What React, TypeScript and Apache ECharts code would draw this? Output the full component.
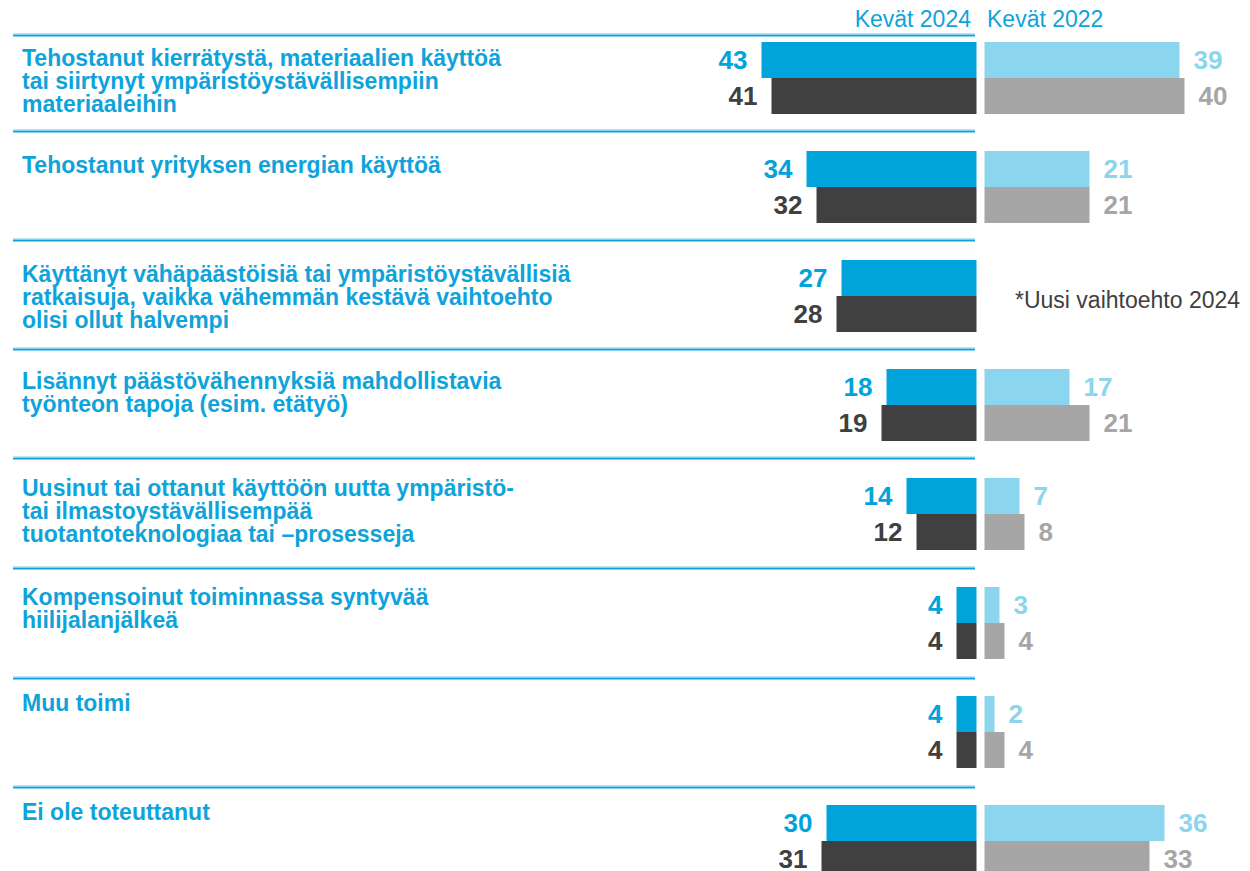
import React, { useEffect, useRef } from 'react';
import * as echarts from 'echarts';

const categories = [
  'Tehostanut kierrätystä, materiaalien käyttöä\ntai siirtynyt ympäristöystävällisempiin\nmateriaaleihin',
  'Tehostanut yrityksen energian käyttöä',
  'Käyttänyt vähäpäästöisiä tai ympäristöystävällisiä\nratkaisuja, vaikka vähemmän kestävä vaihtoehto\nolisi ollut halvempi',
  'Lisännyt päästövähennyksiä mahdollistavia\ntyönteon tapoja (esim. etätyö)',
  'Uusinut tai ottanut käyttöön uutta ympäristö-\ntai ilmastoystävällisempää\ntuotantoteknologiaa tai –prosesseja',
  'Kompensoinut toiminnassa syntyvää\nhiilijalanjälkeä',
  'Muu toimi',
  'Ei ole toteuttanut',
];

const periodLabels = ['Kevät 2024', 'Kevät 2022'];
const footnote = '*Uusi vaihtoehto 2024';

const spring2024A = [43, 34, 27, 18, 14, 4, 4, 30];
const spring2024B = [41, 32, 28, 19, 12, 4, 4, 31];
const spring2022A = [39, 21, null, 17, 7, 3, 2, 36];
const spring2022B = [40, 21, null, 21, 8, 4, 4, 33];

// layout (pixels)
const sepY = [35, 131, 240, 349, 458, 568, 678, 787];
const labelCenterY = [58, 165, 274, 381, 488, 597, 703, 812];

const FONT = '"Liberation Sans", Arial, sans-serif';
const BLUE = '#00a3da';
const DARK = '#404040';
const LIGHT = '#8cd5ee';
const GRAY = '#a6a6a6';
const TEXT_BLUE = '#0ea3da';

export default function App() {
  const ref = useRef<HTMLDivElement>(null);

  useEffect(() => {
    if (!ref.current) return;
    const chart = echarts.init(ref.current, undefined, { renderer: 'svg' });

    const graphics: any[] = [];
    sepY.forEach((y) => {
      graphics.push({
        type: 'line',
        shape: { x1: 13, y1: y - 0.75, x2: 975, y2: y - 0.75 },
        style: { stroke: '#7fd0ef', lineWidth: 1.5 },
        silent: true,
      });
      graphics.push({
        type: 'line',
        shape: { x1: 13, y1: y + 0.75, x2: 975, y2: y + 0.75 },
        style: { stroke: '#12a2dc', lineWidth: 1.5 },
        silent: true,
      });
    });
    categories.forEach((c, i) => {
      graphics.push({
        type: 'text',
        x: 22,
        y: labelCenterY[i] - 11.5,
        style: {
          text: c,
          fill: TEXT_BLUE,
          fontFamily: FONT,
          fontSize: 23,
          fontWeight: 'bold',
          lineHeight: 23,
          verticalAlign: 'top',
          align: 'left',
        },
      });
    });
    graphics.push({
      type: 'text',
      x: 971,
      y: 19,
      style: {
        text: periodLabels[0],
        fill: TEXT_BLUE,
        fontFamily: FONT,
        fontSize: 23,
        align: 'right',
        verticalAlign: 'middle',
      },
    });
    graphics.push({
      type: 'text',
      x: 987,
      y: 19,
      style: {
        text: periodLabels[1],
        fill: TEXT_BLUE,
        fontFamily: FONT,
        fontSize: 23,
        align: 'left',
        verticalAlign: 'middle',
      },
    });
    graphics.push({
      type: 'text',
      x: 1015,
      y: 300,
      style: {
        text: footnote,
        fill: DARK,
        fontFamily: FONT,
        fontSize: 23,
        align: 'left',
        verticalAlign: 'middle',
      },
    });

    const barLabel = (pos: string, color: string) => ({
      show: true,
      position: pos,
      distance: 14,
      color,
      fontFamily: FONT,
      fontSize: 26,
      fontWeight: 'bold',
      formatter: (p: any) => (p.value == null ? '' : String(p.value)),
    });

    const grids = [
      { left: 476.5, width: 500, top: 23.5, height: 872 },
      { left: 984.5, width: 250, top: 23.5, height: 872 },
    ];

    chart.setOption({
      animation: false,
      backgroundColor: '#ffffff',
      grid: grids,
      xAxis: [
        { gridIndex: 0, type: 'value', min: 0, max: 100, inverse: true, show: false },
        { gridIndex: 1, type: 'value', min: 0, max: 50, show: false },
      ],
      yAxis: [
        { gridIndex: 0, type: 'category', data: categories, inverse: true, show: false },
        { gridIndex: 1, type: 'category', data: categories, inverse: true, show: false },
      ],
      series: [
        {
          type: 'bar', name: 'Kevät 2024 A', xAxisIndex: 0, yAxisIndex: 0,
          data: spring2024A, barWidth: 36, barGap: '0%',
          itemStyle: { color: BLUE },
          label: barLabel('left', BLUE),
        },
        {
          type: 'bar', name: 'Kevät 2024 B', xAxisIndex: 0, yAxisIndex: 0,
          data: spring2024B, barWidth: 36, barGap: '0%',
          itemStyle: { color: DARK },
          label: barLabel('left', DARK),
        },
        {
          type: 'bar', name: 'Kevät 2022 A', xAxisIndex: 1, yAxisIndex: 1,
          data: spring2022A, barWidth: 36, barGap: '0%',
          itemStyle: { color: LIGHT },
          label: barLabel('right', LIGHT),
        },
        {
          type: 'bar', name: 'Kevät 2022 B', xAxisIndex: 1, yAxisIndex: 1,
          data: spring2022B, barWidth: 36, barGap: '0%',
          itemStyle: { color: GRAY },
          label: barLabel('right', GRAY),
        },
      ],
      graphic: graphics,
    });

    return () => chart.dispose();
  }, []);

  return (
    <div
      ref={ref}
      style={{ position: 'fixed', left: 0, top: 0, width: 1250, height: 900 }}
    />
  );
}
